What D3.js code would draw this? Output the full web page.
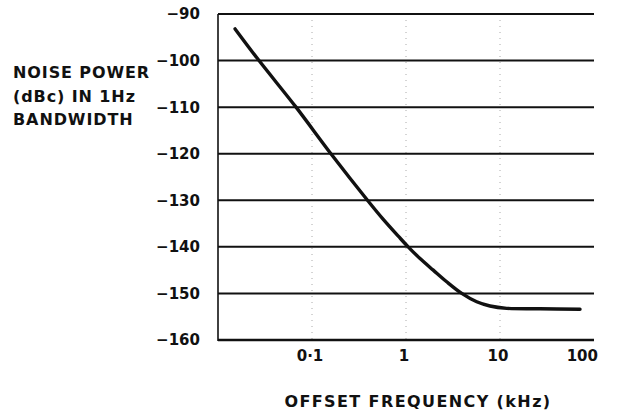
<!DOCTYPE html>
<html>
<head>
<meta charset="utf-8">
<script src="https://cdn.jsdelivr.net/npm/d3@7"></script>
<style>
  html, body { margin: 0; padding: 0; background: #fff; }
  svg { display: block; }
  text { font-family: "DejaVu Sans", sans-serif; font-weight: bold; fill: #111; }
</style>
</head>
<body>
<svg id="chart" width="620" height="412"></svg>
<script>
// Phase-noise curve: offset frequency (kHz) vs noise power (dBc in 1 Hz)
const offsetKHz = [0.0152, 0.0273, 0.0676, 0.159, 0.397, 0.573, 0.828, 1.06, 1.41, 1.95, 2.71, 3.92, 5.65, 7.83, 11.8, 26.7, 71];
const noiseDbc  = [-93.2, -100, -110, -120, -130.2, -134.1, -137.7, -140.05, -142.5, -145, -147.5, -150, -151.8, -152.7, -153.2, -153.3, -153.4];

const yTicks = [-90, -100, -110, -120, -130, -140, -150, -160];
const xTicks = [0.1, 1, 10, 100];
const xTickLabels = ["0·1", "1", "10", "100"];
const yTitleLines = ["NOISE POWER", "(dBc) IN 1Hz", "BANDWIDTH"];
const xTitle = "OFFSET FREQUENCY (kHz)";

const svg = d3.select("#chart");
const plotL = 218, plotR = 594, plotT = 14, plotB = 340;

const x = d3.scaleLog().domain([0.01, 100]).range([plotL, plotR]);
const y = d3.scaleLinear().domain([-90, -160]).range([plotT, plotB]);

// faint dotted verticals at each decade
svg.append("g").selectAll("line")
  .data(xTicks.filter(d => d < 100))
  .join("line")
  .attr("x1", d => x(d)).attr("x2", d => x(d))
  .attr("y1", plotT).attr("y2", plotB)
  .attr("stroke", "#888").attr("stroke-width", 1)
  .attr("stroke-dasharray", "1,5").attr("opacity", 0.7);

// horizontal grid lines
svg.append("g").selectAll("line")
  .data(yTicks)
  .join("line")
  .attr("x1", plotL).attr("x2", plotR)
  .attr("y1", d => y(d)).attr("y2", d => y(d))
  .attr("stroke", "#111")
  .attr("stroke-width", d => d === -160 ? 2.6 : 2);

// left axis line
svg.append("line")
  .attr("x1", plotL).attr("x2", plotL)
  .attr("y1", plotT).attr("y2", plotB + 1)
  .attr("stroke", "#111").attr("stroke-width", 1.6);

// y tick labels
svg.append("g").selectAll("text")
  .data(yTicks)
  .join("text")
  .attr("x", 200)
  .attr("y", d => y(d))
  .attr("dy", "0.36em")
  .attr("text-anchor", "end")
  .style("font-size", "15px")
  .text(d => "\u2212" + Math.abs(d));

// x tick labels
svg.append("g").selectAll("text")
  .data(xTicks)
  .join("text")
  .attr("x", (d, i) => i === xTicks.length - 1 ? x(d) + 4 : x(d) - 2)
  .attr("y", 361)
  .attr("text-anchor", (d, i) => i === xTicks.length - 1 ? "end" : "middle")
  .style("font-size", "15px")
  .text((d, i) => xTickLabels[i]);

// axis titles
svg.append("text")
  .attr("x", 418).attr("y", 407)
  .attr("text-anchor", "middle")
  .style("font-size", "16px")
  .style("letter-spacing", "1.4px")
  .text(xTitle);

svg.append("g").selectAll("text")
  .data(yTitleLines)
  .join("text")
  .attr("x", 13)
  .attr("y", (d, i) => 78 + i * 23.5)
  .style("font-size", "16px")
  .style("letter-spacing", "0.9px")
  .text(d => d);

// noise curve
const pts = offsetKHz.map((f, i) => [x(f), y(noiseDbc[i])]);
svg.append("path")
  .attr("d", d3.line().curve(d3.curveCatmullRom.alpha(0.5))(pts))
  .attr("fill", "none")
  .attr("stroke", "#111")
  .attr("stroke-width", 3.4)
  .attr("stroke-linecap", "round");
</script>
</body>
</html>
